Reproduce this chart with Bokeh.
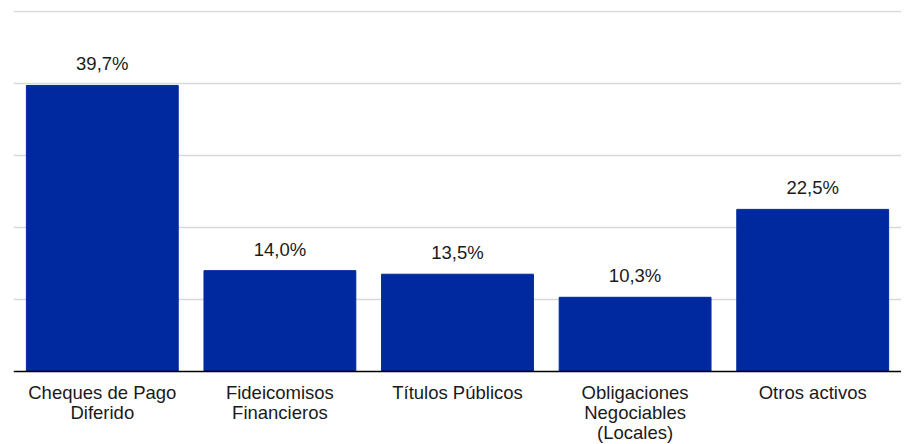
from bokeh.plotting import figure
from bokeh.models import ColumnDataSource, LabelSet, Range1d, FixedTicker, Span
from bokeh.core.properties import value
from bokeh.embed import file_html
from bokeh.resources import INLINE

categories = ["Cheques de Pago Diferido", "Fideicomisos Financieros", "Títulos Públicos",
              "Obligaciones Negociables (Locales)", "Otros activos"]
tick_line1 = ["Cheques de Pago", "Fideicomisos", "Títulos Públicos", "Obligaciones", "Otros activos"]
tick_line2 = ["Diferido", "Financieros", "", "Negociables", ""]
tick_line3 = ["", "", "", "(Locales)", ""]
values = [39.7, 14.0, 13.5, 10.3, 22.5]
value_labels = ["39,7%", "14,0%", "13,5%", "10,3%", "22,5%"]
grid_ticks = [10, 20, 30, 40, 50]

FONT = "Liberation Sans"
FS = "18.5px"
TXT = "#1a1a1a"

src = ColumnDataSource(dict(cat=categories, val=values, lab=value_labels,
                            l1=tick_line1, l2=tick_line2, l3=tick_line3,
                            zero=[0] * len(categories)))

p = figure(x_range=categories, y_range=Range1d(-10.13, 50.1), width=901, height=444,
           output_backend="svg", toolbar_location=None,
           min_border_left=13, min_border_right=0, min_border_top=10, min_border_bottom=0)

p.vbar(x="cat", top="val", width=0.855, source=src, color="#00299F")

p.add_layout(Span(location=0, dimension="width", line_color="black", line_width=1.5))

labels = LabelSet(x="cat", y="val", text="lab", source=src, text_align="center",
                  text_baseline="alphabetic", y_offset=15, text_font=value(FONT),
                  text_font_size=FS, text_color=TXT)
p.add_layout(labels)

for col, off in (("l1", -27), ("l2", -47), ("l3", -67)):
    p.add_layout(LabelSet(x="cat", y="zero", text=col, source=src, text_align="center",
                          text_baseline="alphabetic", y_offset=off, text_font=value(FONT),
                          text_font_size=FS, text_color=TXT))

p.yaxis.visible = False
p.xaxis.visible = False
p.ygrid.ticker = FixedTicker(ticks=grid_ticks)
p.ygrid.grid_line_color = "#d9d9d9"
p.ygrid.grid_line_width = 1.5
p.xgrid.grid_line_color = None
p.outline_line_color = None
p.x_range.range_padding = 0

open("out.html", "w").write(file_html(p, INLINE))
